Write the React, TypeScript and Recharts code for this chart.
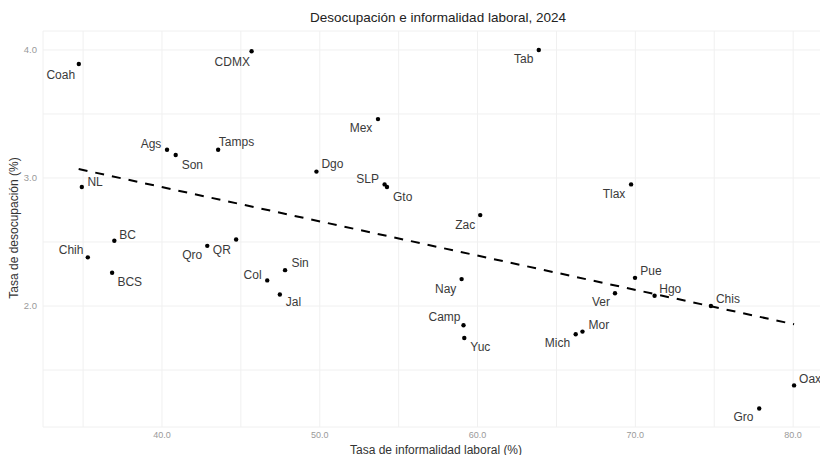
import React from 'react';
import { ScatterChart, Scatter, XAxis, YAxis, CartesianGrid, ReferenceLine } from 'recharts';

const states = ['Coah','CDMX','Tab','Mex','Ags','Son','Tamps','Dgo','SLP','Gto','NL','Tlax','Zac','BC','Chih','BCS','Qro','QR','Sin','Col','Jal','Nay','Camp','Yuc','Mich','Mor','Ver','Pue','Hgo','Chis','Oax','Gro'];
const informality = [34.73,45.68,63.88,53.69,40.32,40.87,43.56,49.79,54.11,54.26,34.92,69.73,60.17,36.98,35.30,36.84,42.87,44.70,47.80,46.67,47.47,58.99,59.11,59.16,66.22,66.65,68.71,69.98,71.22,74.79,80.06,77.85];
const unemployment = [3.89,3.99,4.00,3.46,3.22,3.18,3.22,3.05,2.95,2.93,2.93,2.95,2.71,2.51,2.38,2.26,2.47,2.52,2.28,2.20,2.09,2.21,1.85,1.75,1.78,1.80,2.10,2.22,2.08,2.00,1.38,1.20];
const trendX = [34.72, 80.06];
const trendY = [3.07, 1.857];
const xTicks = [35,40,45,50,55,60,65,70,75,80];
const yTicks = [1.5,2,2.5,3,3.5,4];

const title = 'Desocupación e informalidad laboral, 2024';
const xTitle = 'Tasa de informalidad laboral (%)';
const yTitle = 'Tasa de desocupación (%)';

// label placement relative to point: [anchor, dx, dy]
const labelPos: Record<string, [string, number, number]> = {
  Coah: ['end', -3.7, 10.7], CDMX: ['end', -1.7, 10.3], Tab: ['end', -5.3, 9],
  Mex: ['end', -5.6, 9], Ags: ['end', -5.7, -6], Son: ['start', 6, 10.3],
  Tamps: ['start', 0.7, -8], Dgo: ['start', 5, -7.3], SLP: ['end', -5.7, -5.7],
  Gto: ['start', 6, 9.7], NL: ['start', 5.6, -5.3], Tlax: ['end', -5.7, 9.3],
  Zac: ['end', -5, 9.5], BC: ['start', 5, -5.6], Chih: ['end', -4.4, -7.3],
  BCS: ['start', 5.3, 9.3], Qro: ['end', -5, 9.4], QR: ['end', -5.3, 10.7],
  Sin: ['start', 6.4, -6.7], Col: ['end', -5.6, -5.7], Jal: ['start', 6, 7.4],
  Nay: ['end', -5.3, 10.3], Camp: ['end', -3, -8], Yuc: ['start', 6, 9],
  Mich: ['end', -5.6, 9.3], Mor: ['start', 6, -7], Ver: ['end', -5, 8.4],
  Pue: ['start', 5.3, -7], Hgo: ['start', 4.7, -6.7], Chis: ['start', 5, -7.3],
  Oax: ['start', 5, -6], Gro: ['end', -5.7, 9],
};

const data = states.map((s, i) => ({ name: s, x: informality[i], y: unemployment[i] }));

const FONT = '"Liberation Sans", Arial, sans-serif';

const PointShape = (props: any) => {
  const { cx, cy, payload } = props;
  const lp = labelPos[payload.name] || ['start', 5, -6];
  return (
    <g>
      <circle cx={cx} cy={cy} r={2.2} fill="#000" />
      <text x={cx + lp[1]} y={cy + lp[2]} textAnchor={lp[0] as any} dominantBaseline="central"
        fontSize={12} fontFamily={FONT} fill="#3a3a3a">{payload.name}</text>
    </g>
  );
};

export default function App() {
  return (
    <div style={{ position: 'absolute', left: 0, top: 0, width: 820, height: 455, overflow: 'hidden', background: '#fff' }}>
      <ScatterChart width={831} height={455} margin={{ top: 31, right: 0, bottom: 0, left: 0 }}>
        <CartesianGrid stroke="#f0f0f0" strokeWidth={1} />
        <XAxis type="number" dataKey="x" domain={[32.46, 82.4]} ticks={xTicks} allowDataOverflow
          axisLine={false} tickLine={false} height={28} interval={0} tickMargin={-1}
          tickFormatter={(v: number) => (v % 10 === 0 ? v.toFixed(1) : '')}
          tick={{ fontSize: 9, fill: '#9a9a9a', fontFamily: FONT }} />
        <YAxis type="number" dataKey="y" domain={[1.055, 4.148]} ticks={yTicks} allowDataOverflow
          axisLine={false} tickLine={false} width={43} interval={0} tickMargin={0}
          tickFormatter={(v: number) => (Number.isInteger(v) ? v.toFixed(1) : '')}
          tick={{ fontSize: 9.5, fill: '#9a9a9a', fontFamily: FONT }} />
        <Scatter data={data} shape={PointShape} isAnimationActive={false} />
        <ReferenceLine segment={[{ x: trendX[0], y: trendY[0] }, { x: trendX[1], y: trendY[1] }]}
          stroke="#000" strokeWidth={2} strokeDasharray="9 8" ifOverflow="visible" />
      </ScatterChart>
      <svg width={820} height={455} style={{ position: 'absolute', left: 0, top: 0, pointerEvents: 'none' }}>
        <text x={438} y={17} textAnchor="middle" dominantBaseline="central" fontSize={13.5} fontFamily={FONT} fill="#222">{title}</text>
        <text x={436} y={449.5} textAnchor="middle" dominantBaseline="central" fontSize={12} fontFamily={FONT} fill="#333">{xTitle}</text>
        <text x={14} y={228} textAnchor="middle" dominantBaseline="central" fontSize={12} fontFamily={FONT} fill="#333" transform="rotate(-90 14 228)">{yTitle}</text>
      </svg>
    </div>
  );
}
